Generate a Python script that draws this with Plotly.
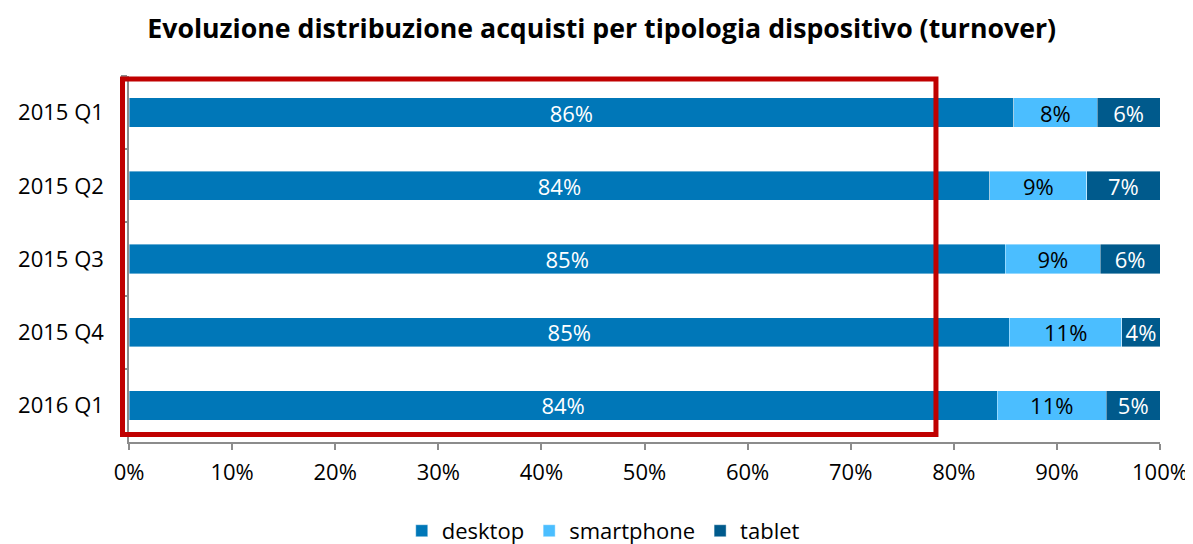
import plotly.graph_objects as go

# data (share of turnover by device, %)
quarters = ["2015 Q1", "2015 Q2", "2015 Q3", "2015 Q4", "2016 Q1"]
desktop = [85.8, 83.5, 85.0, 85.4, 84.2]
smartphone = [8.1, 9.4, 9.2, 10.9, 10.6]
tablet = [6.1, 7.1, 5.8, 3.7, 5.2]
x_ticks = list(range(0, 101, 10))

FONT = "'Open Sans', Lato, sans-serif"
AXIS_GREY = "#8c8c8c"
FS = 22

series = [
    ("desktop", desktop, "#0077B8", "white"),
    ("smartphone", smartphone, "#4BBEFF", "black"),
    ("tablet", tablet, "#005A8C", "white"),
]

fig = go.Figure()
for name, vals, color, txtcolor in series:
    fig.add_trace(go.Bar(
        y=quarters, x=vals, name=name, orientation="h",
        marker=dict(color=color, line=dict(color="rgba(255,255,255,0.5)", width=0.8)),
        texttemplate="%{x:.0f}%", textposition="inside", insidetextanchor="middle",
        textfont=dict(color=txtcolor, size=FS, family=FONT),
        textangle=0, constraintext="none",
    ))

# red highlight box around the desktop part (paper coords so it is not clipped)
fig.add_shape(type="rect", xref="paper", yref="paper",
              x0=-0.0063, x1=0.7827, y0=0.0205, y1=0.992,
              line=dict(color="#C00000", width=5), fillcolor="rgba(0,0,0,0)")

# page body has an 8px margin, so the figure is 8px smaller than the window
fig.update_layout(
    barmode="stack", bargap=0.6,
    width=1185, height=536,
    margin=dict(l=121, r=33, t=68, b=102, autoexpand=False),
    plot_bgcolor="white", paper_bgcolor="white",
    font=dict(family=FONT, size=FS, color="black"),
    title=dict(text="<b>Evoluzione distribuzione acquisti per tipologia dispositivo (turnover)</b>",
               x=0.501, xanchor="center", y=0.962, yanchor="middle",
               font=dict(size=26.7, family=FONT)),
    legend=dict(orientation="h", x=0.46, xanchor="center", y=-0.243, yanchor="middle",
                font=dict(size=FS), traceorder="normal", itemwidth=30),
)
fig.update_xaxes(range=[0, 100], tickvals=x_ticks, ticktext=[f"{v}%" for v in x_ticks],
                 showgrid=False, zeroline=False, showline=True, linecolor=AXIS_GREY, linewidth=1.5,
                 ticks="outside", ticklen=6, tickcolor=AXIS_GREY, tickwidth=1.5,
                 tickfont=dict(size=FS), ticklabelstandoff=4, fixedrange=True)
fig.update_yaxes(autorange="reversed", showgrid=False, showline=True, linecolor=AXIS_GREY, linewidth=1.5,
                 ticks="outside", ticklen=6, tickcolor=AXIS_GREY, tickwidth=1.5, tickson="boundaries",
                 tickfont=dict(size=FS), ticklabelstandoff=19, fixedrange=True)

fig.write_html("out.html")
